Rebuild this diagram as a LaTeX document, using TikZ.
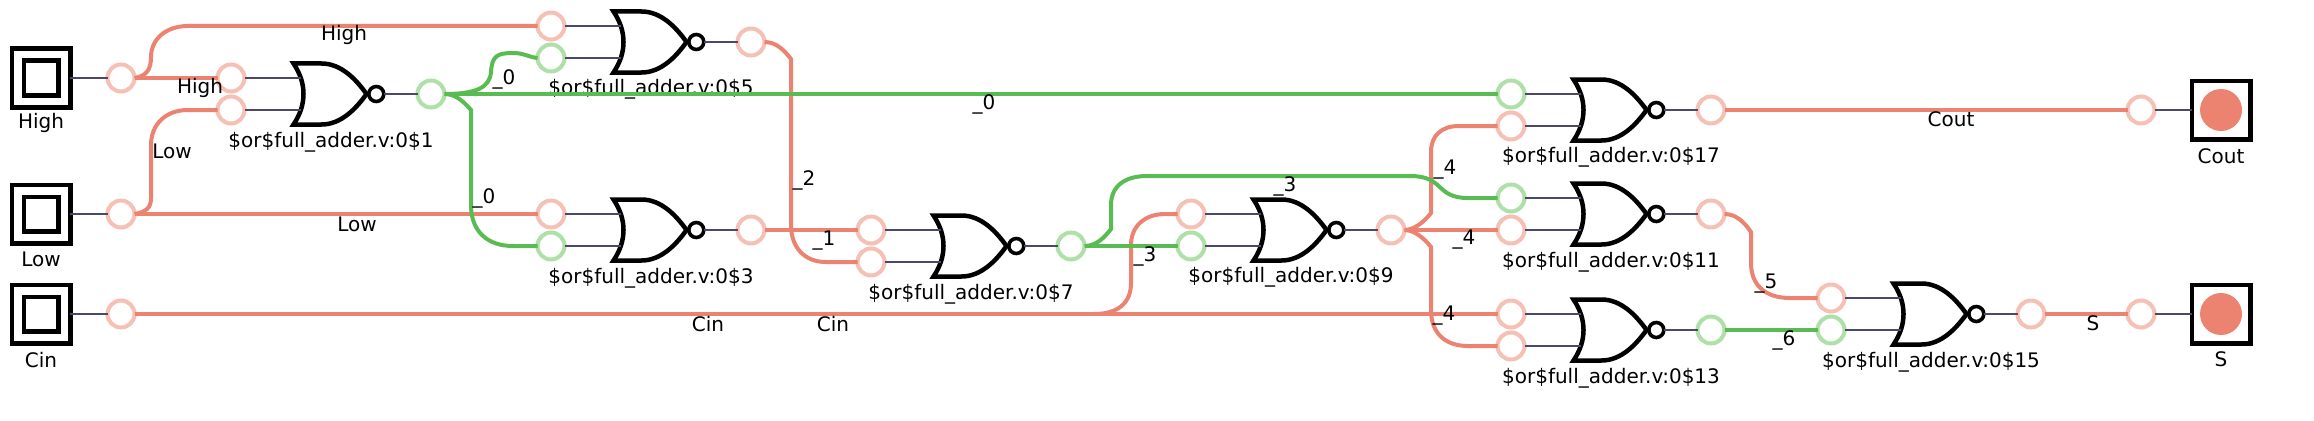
\documentclass[tikz,border=0pt]{standalone}
\usepackage{fontspec}
\setmainfont{DejaVu Sans}
\definecolor{wred}{HTML}{EC8371}
\definecolor{wgreen}{HTML}{59BC52}
\definecolor{pred}{HTML}{F6C0B4}
\definecolor{pgreen}{HTML}{AEE0A8}
\definecolor{stubc}{HTML}{4A4A68}
\tikzset{
  txt/.style={font=\fontsize{20}{24}\selectfont,inner sep=0pt,text=black},
  pr/.style={circle,draw=pred,line width=4pt,minimum size=27pt,inner sep=0pt,outer sep=0pt,fill=white},
  pg/.style={pr,draw=pgreen},
  stub/.style={draw=stubc,line width=2.2pt},
  redw/.style={draw=wred,line width=4pt},
  greenw/.style={draw=wgreen,line width=4pt},
  outerbox/.style={rectangle,draw=black,line width=4.5pt,minimum size=58.5pt,inner sep=0pt,outer sep=0pt},
  innerbox/.style={rectangle,draw=black,line width=4.5pt,minimum size=34.5pt,inner sep=0pt,outer sep=0pt},
  dotc/.style={circle,fill=wred,minimum size=42pt,inner sep=0pt,outer sep=0pt},
  norgate/.pic={
    \draw[black,line width=4.5pt,line join=miter,miter limit=10]
      (4,-30.5) -- (32,-30.5) .. controls (52,-30.5) and (67,-14) .. (77,0)
      .. controls (67,14) and (52,30.5) .. (32,30.5) -- (4,30.5)
      .. controls (11,20) and (14,10) .. (14,0) .. controls (14,-10) and (11,-20) .. (4,-30.5) -- cycle;
    \draw[black,line width=3.6pt,fill=white] (86.8,0) circle[radius=7.5];
    \coordinate (-a) at (11,-16);
    \coordinate (-b) at (11,16);
    \coordinate (-o) at (94.5,0);
  }
}
\newcommand{\gateunit}[8]{% name x y in1style in2style outstyle label labely
  \node[#4] (#1a) at (#2-58.5,#3-16) {};
  \node[#5] (#1b) at (#2-58.5,#3+16) {};
  \node[#6] (#1o) at (#2+141.5,#3) {};
  \pic (#1) at (#2,#3) {norgate};
  \draw[stub] (#1a.east) -- (#1-a);
  \draw[stub] (#1b.east) -- (#1-b);
  \draw[stub] (#1-o) -- (#1o.west);
  \node[txt] (#1t) at (#2+41.5,#8) {#7};
}
\begin{document}
\begin{tikzpicture}[x=1pt,y=-1pt]
\useasboundingbox[fill=white] (0,0) rectangle (2314,420);
% wires are drawn after the ports are placed
\gateunit{gA}{289.5}{94}{pr}{pr}{pg}{\$or\$full\_adder.v:0\$1}{142}
\gateunit{gE}{609.5}{42}{pr}{pg}{pr}{\$or\$full\_adder.v:0\$5}{89}
\gateunit{gC}{609.5}{230}{pr}{pg}{pr}{\$or\$full\_adder.v:0\$3}{278}
\gateunit{gG}{929.5}{246}{pr}{pr}{pg}{\$or\$full\_adder.v:0\$7}{294}
\gateunit{gI}{1249.5}{230}{pr}{pg}{pr}{\$or\$full\_adder.v:0\$9}{277}
\gateunit{gK}{1569.5}{214}{pg}{pr}{pr}{\$or\$full\_adder.v:0\$11}{262}
\gateunit{gM}{1569.5}{330}{pr}{pr}{pg}{\$or\$full\_adder.v:0\$13}{378}
\gateunit{gQ}{1569.5}{110}{pg}{pr}{pr}{\$or\$full\_adder.v:0\$17}{157}
\gateunit{gO}{1889.5}{314}{pr}{pg}{pr}{\$or\$full\_adder.v:0\$15}{362}
% inputs
\foreach \n/\yy/\ly/\t in {High/78/123/High,Low/214/259/Low,Cin/314/360/Cin}{
  \node[outerbox] (b\n) at (41,\yy) {};
  \node[innerbox] (i\n) at (41,\yy) {};
  \node[pr] (p\n) at (121,\yy) {};
  \draw[stub] (b\n.east) -- (p\n.west);
  \node[txt] (l\n) at (41,\ly) {\t};
}
% outputs
\foreach \n/\yy/\ly/\t in {Cout/110/156/Cout,S/314/359/S}{
  \node[outerbox] (b\n) at (2221,\yy) {};
  \node[dotc] (d\n) at (2221,\yy) {};
  \node[pr] (p\n) at (2141,\yy) {};
  \draw[stub] (p\n.east) -- (b\n.west);
  \node[txt] (l\n) at (2221,\ly) {\t};
}
% red wires
\draw[redw] (pHigh.east) -- (gAa.west);
\draw[redw] (pHigh.east) .. controls (146,76) and (151,70) .. (151,57) .. controls (151,40) and (165,26) .. (188,26) -- (gEa.west);
\draw[redw] (pLow.east) .. controls (146,212) and (151,208) .. (151,198) -- (151,145) .. controls (151,125) and (165,110) .. (188,110) -- (gAb.west);
\draw[redw] (pLow.east) -- (gCa.west);
\draw[redw] (pCin.east) -- (gMa.west);
\draw[redw] (1094,314) .. controls (1118,314) and (1131,303) .. (1131,283) -- (1131,245) .. controls (1131,226) and (1145,214) .. (1165,214) -- (gIa.west);
\draw[redw] (gCo.east) -- (gGa.west);
\draw[redw] (gEo.east) .. controls (776,42) and (784,50) .. (791,59) -- (791,225) .. controls (791,248) and (805,262) .. (826,262) -- (gGb.west);
\draw[redw] (gIo.east) -- (gKb.west);
\draw[redw] (gIo.east) .. controls (1414,230) and (1424,222) .. (1431,213) -- (1431,152) .. controls (1431,136) and (1441,126) .. (1459,126) -- (gQb.west);
\draw[redw] (gIo.east) .. controls (1414,230) and (1424,238) .. (1431,247) -- (1431,310) .. controls (1431,333) and (1445,346) .. (1468,346) -- (gMb.west);
\draw[redw] (gKo.east) .. controls (1736,214) and (1744,222) .. (1751,232) -- (1751,263) .. controls (1751,285) and (1765,298) .. (1790,298) -- (gOa.west);
\draw[redw] (gQo.east) -- (pCout.west);
\draw[redw] (gOo.east) -- (pS.west);
% green wires
\draw[greenw] (gAo.east) -- (gQa.west);
\draw[greenw] (gAo.east) .. controls (475,94) and (490,88) .. (491,72) .. controls (492,56) and (497,53) .. (513,53) .. controls (524,53) and (528,57) .. (gEb.west);
\draw[greenw] (gAo.east) .. controls (456,94) and (464,102) .. (471,110) -- (471,205) .. controls (471,232) and (488,246) .. (513,246) -- (gCb.west);
\draw[greenw] (gGo.east) -- (gIb.west);
\draw[greenw] (gGo.east) .. controls (1096,246) and (1104,238) .. (1111,229) -- (1111,205) .. controls (1111,186) and (1125,176) .. (1147,176) -- (1410,176) .. controls (1445,176) and (1435,198) .. (1468,198) -- (gKa.west);
\draw[greenw] (gMo.east) -- (gOb.west);
% wire labels
\foreach \i/\xx/\yy/\t in {
 a/344/35/High, b/200/88/High, c/172/151/Low, d/357/224/Low,
 e/504/79/\_0, f/484/198/\_0, g/984/104/\_0,
 h/804/180/\_2, j/824/241/\_1, k/708/324/Cin, m/833/324/Cin,
 n/1145/256/\_3, o/1285/186/\_3,
 q/1445/170/\_4, r/1464/240/\_4, s/1444/316/\_4,
 t/1766/284/\_5, u/1784/340/\_6, v/1951/119/Cout, w/2093/323/S}{
  \node[txt] (wl\i) at (\xx,\yy) {\t};
}
\end{tikzpicture}
\end{document}
